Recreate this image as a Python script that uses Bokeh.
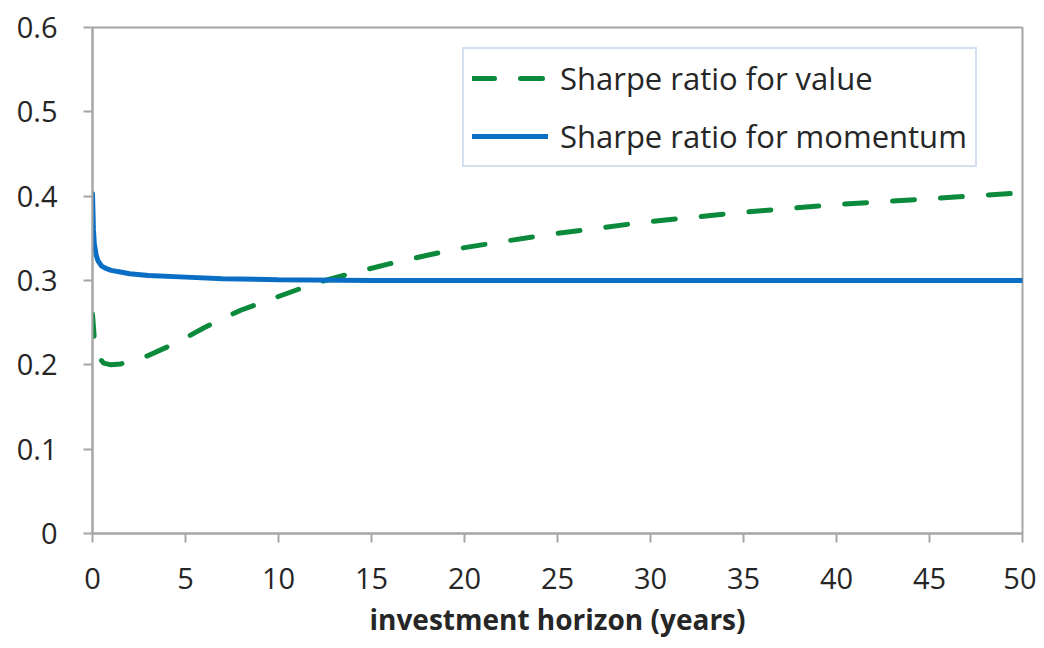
from bokeh.plotting import figure
from bokeh.models import Range1d, FixedTicker, CustomJSTickFormatter, Legend, LegendItem
from bokeh.embed import file_html
from bokeh.resources import INLINE

# Data
x_value = [0, 0.1, 0.3, 0.6, 1, 1.5, 2, 3, 4, 5, 6, 7, 8, 9, 10, 12, 14, 16, 18, 20, 22, 25, 30, 35, 40, 45, 50]
y_value = [0.26, 0.23, 0.21, 0.202, 0.200, 0.201, 0.204, 0.211, 0.221, 0.232, 0.244, 0.255, 0.265, 0.273, 0.281,
           0.297, 0.309, 0.320, 0.330, 0.339, 0.346, 0.356, 0.370, 0.381, 0.390, 0.397, 0.404]
x_momentum = [0, 0.05, 0.1, 0.2, 0.3, 0.5, 0.75, 1, 1.5, 2, 3, 5, 7, 10, 15, 20, 30, 40, 50]
y_momentum = [0.403, 0.36, 0.343, 0.330, 0.323, 0.317, 0.314, 0.312, 0.310, 0.308, 0.306, 0.304, 0.302, 0.301,
              0.300, 0.300, 0.300, 0.300, 0.300]
x_ticks = [0, 5, 10, 15, 20, 25, 30, 35, 40, 45, 50]
y_ticks = [0, 0.1, 0.2, 0.3, 0.4, 0.5, 0.6]
label_value = "Sharpe ratio for value"
label_momentum = "Sharpe ratio for momentum"
x_title = "investment horizon (years)"

FONT = "Open Sans"
GREEN = "#0b8a3c"
BLUE = "#0a6fc4"
AXIS = "#a6a6a6"
TEXT = "#262626"

p = figure(width=1036, height=640, output_backend="svg", toolbar_location=None,
           x_range=Range1d(0, 50), y_range=Range1d(0, 0.6),
           min_border_left=92, min_border_right=14, min_border_top=27, min_border_bottom=107)
p.grid.visible = False
p.outline_line_color = AXIS
p.outline_line_width = 2
p.background_fill_color = "white"
p.border_fill_color = "white"

r_val = p.line(x_value, y_value, line_color=GREEN, line_width=5, line_dash="22 26", line_cap="round")
r_mom = p.line(x_momentum, y_momentum, line_color=BLUE, line_width=5, line_cap="round")

for ax in (p.xaxis[0], p.yaxis[0]):
    ax.axis_line_color = AXIS
    ax.axis_line_width = 2
    ax.major_tick_line_color = AXIS
    ax.major_tick_line_width = 2
    ax.major_tick_in = 0
    ax.major_tick_out = 9
    ax.minor_tick_line_color = None
    ax.major_label_text_font = FONT
    ax.major_label_text_font_size = "29px"
    ax.major_label_text_color = TEXT

p.xaxis.ticker = FixedTicker(ticks=x_ticks)
p.yaxis.ticker = FixedTicker(ticks=y_ticks)
p.yaxis.formatter = CustomJSTickFormatter(code="return tick == 0 ? '0' : tick.toFixed(1);")
p.xaxis.major_label_standoff = 25
p.yaxis.major_label_standoff = 26
p.xaxis.axis_label = x_title
p.xaxis.axis_label_text_font = FONT
p.xaxis.axis_label_text_font_style = "bold"
p.xaxis.axis_label_text_font_size = "28px"
p.xaxis.axis_label_text_color = TEXT
p.xaxis.axis_label_standoff = 8

legend = Legend(items=[LegendItem(label=label_value, renderers=[r_val]),
                       LegendItem(label=label_momentum, renderers=[r_mom])],
                location=(370, 366))
legend.label_text_font = FONT
legend.label_text_font_size = "31px"
legend.label_text_color = TEXT
legend.glyph_width = 76
legend.glyph_height = 36
legend.label_height = 36
legend.label_standoff = 12
legend.spacing = 16
legend.padding = 8
legend.margin = 0
legend.border_line_color = "#a9c1e2"
legend.border_line_width = 2
legend.background_fill_alpha = 1
p.add_layout(legend)

open("out.html", "w").write(file_html(p, INLINE))
